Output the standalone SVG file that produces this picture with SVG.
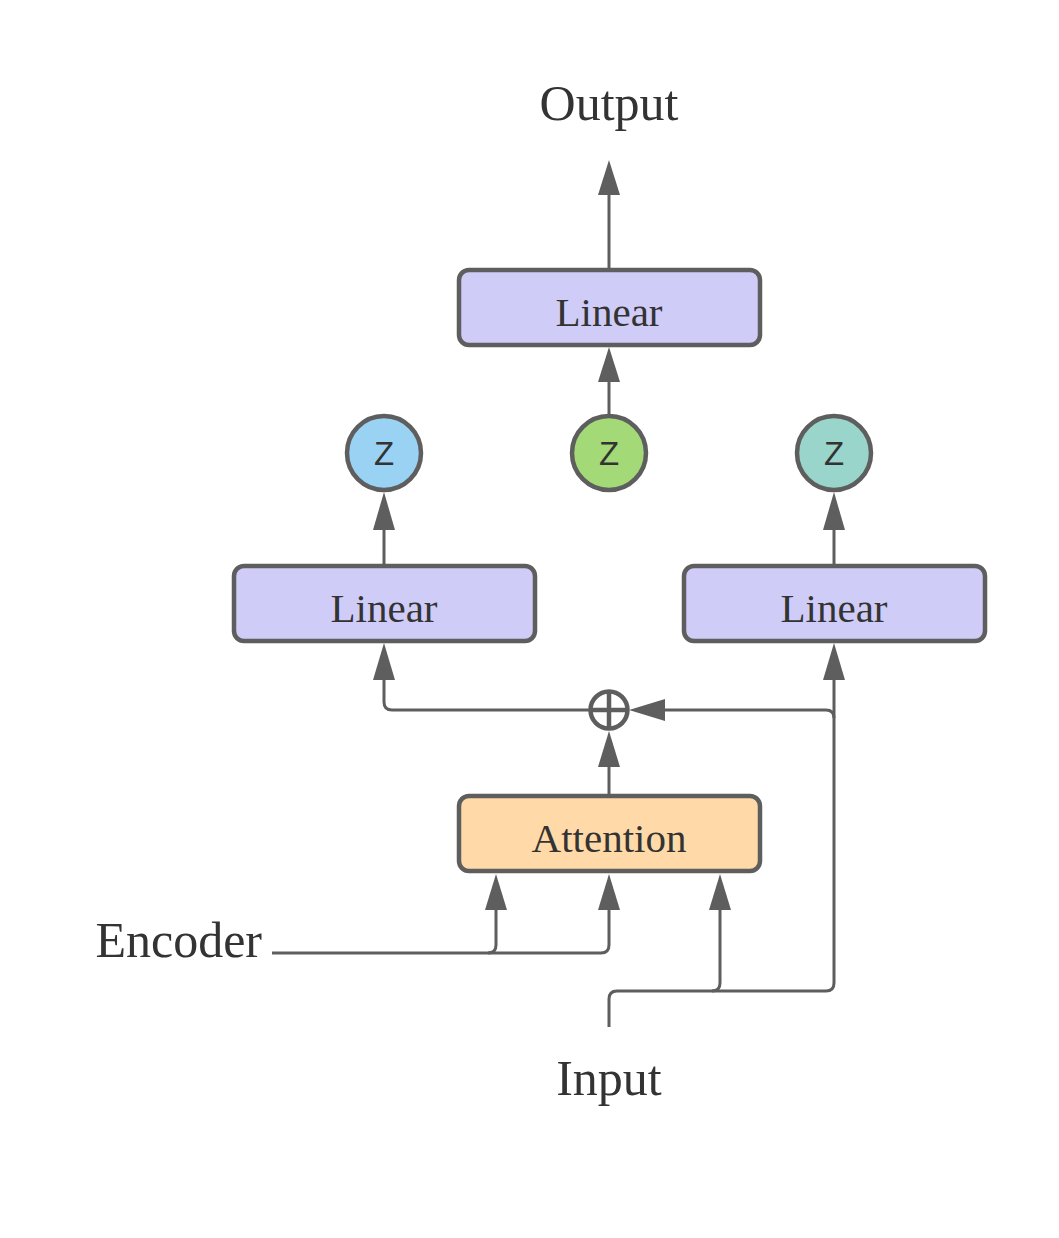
<svg xmlns="http://www.w3.org/2000/svg" width="1059" height="1238" viewBox="0 0 1059 1238">
<defs>
<style>
.box{stroke:#5e5e5e;stroke-width:4.5}
.lin{fill:#d0ccf8}
.att{fill:#ffdaa8}
.lbl{font-family:"Liberation Serif",serif;font-size:41px;fill:#333;text-anchor:middle}
.big{font-family:"Liberation Serif",serif;font-size:50px;fill:#333}
.z{font-family:"Liberation Sans",Arial,sans-serif;font-size:33px;fill:#333;text-anchor:middle}
.c{fill:none;stroke:#5e5e5e;stroke-width:3}
.ah{fill:#5e5e5e}
</style>
</defs>
<rect width="1059" height="1238" fill="#fff"/>
<g id="output"><text class="big" x="609" y="120" text-anchor="middle">Output</text></g>
<g id="linear-top"><rect class="box lin" x="459" y="270" width="301" height="75" rx="10"/><text class="lbl" x="609" y="326">Linear</text></g>
<g id="z-left"><circle class="box" cx="384" cy="453" r="37" fill="#9ad2f3"/><text class="z" x="384" y="465">Z</text></g>
<g id="z-mid"><circle class="box" cx="609" cy="453" r="37" fill="#a3d977"/><text class="z" x="609" y="465">Z</text></g>
<g id="z-right"><circle class="box" cx="834" cy="453" r="37" fill="#99d5ca"/><text class="z" x="834" y="465">Z</text></g>
<g id="linear-left"><rect class="box lin" x="234" y="566" width="301" height="75" rx="10"/><text class="lbl" x="384" y="622">Linear</text></g>
<g id="linear-right"><rect class="box lin" x="684" y="566" width="301" height="75" rx="10"/><text class="lbl" x="834" y="622">Linear</text></g>
<g id="plus"><circle cx="609" cy="710" r="18.5" fill="#fff" stroke="#5e5e5e" stroke-width="4.5"/><path d="M590.5 710H627.5M609 691.5V728.5" stroke="#5e5e5e" stroke-width="4.5"/></g>
<g id="attention"><rect class="box att" x="459" y="796" width="301" height="75" rx="10"/><text class="lbl" x="609" y="852">Attention</text></g>
<g id="encoder"><text class="big" x="262" y="957" text-anchor="end">Encoder</text></g>
<g id="input"><text class="big" x="609" y="1095" text-anchor="middle">Input</text></g>
<g id="connectors">
<path class="c" d="M609 270V190"/><path class="ah" d="M609 160L598 195H620Z"/>
<path class="c" d="M609 416V378"/><path class="ah" d="M609 347L598 382H620Z"/>
<path class="c" d="M384 566V525"/><path class="ah" d="M384 492L373 530H395Z"/>
<path class="c" d="M834 566V525"/><path class="ah" d="M834 492L823 530H845Z"/>
<path class="c" d="M590 710H392Q384 710 384 702V675"/><path class="ah" d="M384 643L373 680H395Z"/>
<path class="c" d="M609 796V762"/><path class="ah" d="M609 731L598 767H620Z"/>
<path class="c" d="M834 983V675"/><path class="ah" d="M834 643L823 680H845Z"/>
<path class="c" d="M834 718Q834 710 826 710H660"/><path class="ah" d="M629 710L665 699V721Z"/>
<path class="c" d="M609 1027V999Q609 991 617 991H826Q834 991 834 983"/>
<path class="c" d="M712 991Q720 991 720 983V905"/><path class="ah" d="M720 874L709 910H731Z"/>
<path class="c" d="M272 953H601Q609 953 609 945V905"/><path class="ah" d="M609 874L598 910H620Z"/>
<path class="c" d="M488 953Q496 953 496 945V905"/><path class="ah" d="M496 874L485 910H507Z"/>
</g>
</svg>
